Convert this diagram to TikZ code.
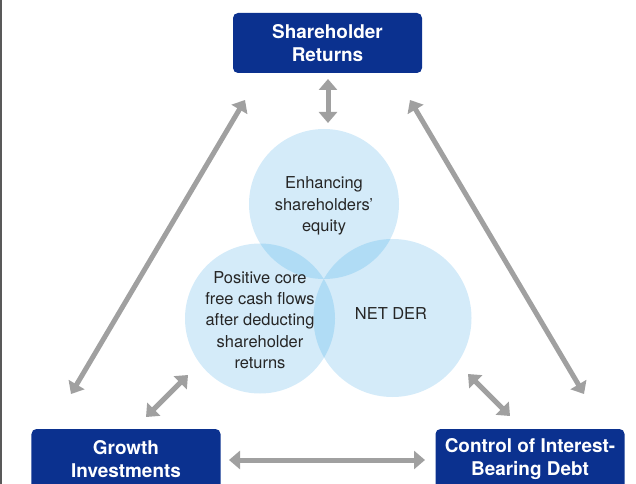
\documentclass[tikz,border=0pt]{standalone}
\usepackage{fontspec}
\setmainfont{TeX Gyre Heros}
\usetikzlibrary{arrows.meta}

\definecolor{boxblue}{RGB}{11,49,143}
\definecolor{ringblue}{RGB}{212,235,249}
\definecolor{lensblue}{RGB}{176,220,245}
\definecolor{arrowgray}{RGB}{160,160,160}

\tikzset{
  goalbox/.style={fill=boxblue, rounded corners=5bp, minimum width=189bp,
    minimum height=60bp, inner sep=0pt, text=white, align=center,
    font=\fontsize{19}{23}\selectfont\bfseries},
  ringtext/.style={text=black!85, align=center,
    font=\fontsize{16.5}{21.5}\selectfont},
  link/.style={draw=arrowgray, line width=5bp,
    {Triangle[length=11bp,width=18bp]}-{Triangle[length=11bp,width=18bp]}}
}

\begin{document}
\begin{tikzpicture}[x=1bp,y=-1bp]
\useasboundingbox (0,0) rectangle (636,484);
\clip (0,0) rectangle (636,484);
\draw[black!65, line width=1.2bp] (1,0) -- (1,484);

% the three rings
\coordinate (equity) at (324,204);
\coordinate (cashflow) at (260,318.5);
\coordinate (netder) at (392.5,318);
\fill[ringblue] (equity) circle[radius=75bp];
\fill[ringblue] (cashflow) circle[radius=75bp];
\fill[ringblue] (netder) circle[radius=79bp];
\begin{scope}
\clip (equity) circle[radius=75bp];
\fill[lensblue] (cashflow) circle[radius=75bp];
\fill[lensblue] (netder) circle[radius=79bp];
\end{scope}
\begin{scope}
\clip (cashflow) circle[radius=75bp];
\fill[lensblue] (netder) circle[radius=79bp];
\end{scope}

\node[ringtext] (equitytext) at (324,206) {Enhancing\\shareholders'\\equity};
\node[ringtext] (cashtext) at (260,320) {Positive core\\free cash flows\\after deducting\\shareholder\\returns};
\node[ringtext] (dertext) at (391,314) {NET DER};

% goals
\node[goalbox] (returns) at (327.5,43) {Shareholder\\Returns};
\node[goalbox] (growth) at (126,459) {Growth\\Investments};
\node[goalbox] (debt) at (530,459) {Control of Interest-\\Bearing Debt};

% links
\coordinate (ret-top) at (328,79);
\coordinate (ring-top) at (328,123);
\coordinate (ret-left) at (245,100);
\coordinate (gro-up) at (71,394);
\coordinate (ret-right) at (410,100);
\coordinate (debt-up) at (584,394);
\coordinate (cash-low) at (188,375);
\coordinate (gro-right) at (146,417);
\coordinate (der-low) at (468,374);
\coordinate (debt-left) at (510,416);
\coordinate (gro-end) at (229,460);
\coordinate (debt-end) at (425,460);

\draw[link] (ret-top) -- (ring-top);
\draw[link] (ret-left) -- (gro-up);
\draw[link] (ret-right) -- (debt-up);
\draw[link] (cash-low) -- (gro-right);
\draw[link] (der-low) -- (debt-left);
\draw[link] (gro-end) -- (debt-end);
\end{tikzpicture}
\end{document}
